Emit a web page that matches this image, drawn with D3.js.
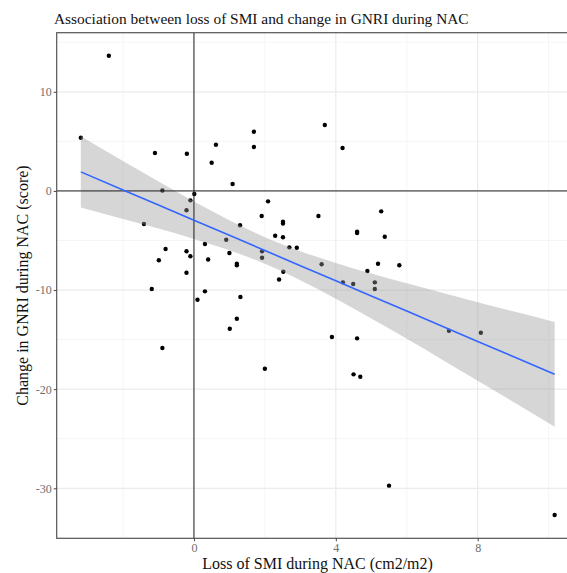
<!DOCTYPE html>
<head>
  <meta charset="utf-8">
  <script src="https://d3js.org/d3.v7.min.js"></script>
  <style>
    body { margin: 0; background: #fff; }
    text { font-family: 'Liberation Serif', 'Times New Roman', serif; }
    .title { font-size: 15.4px; fill: #111; }
    .axisLabel { font-size: 16px; fill: #111; }
    .tick text { font-size: 12px; fill: #6e6e6e; font-family: 'Liberation Serif', serif; }
    .tick line { stroke: #444; }
    .domain { display: none; }
  </style>
</head>
<body>
<div id="chart"></div>
<script>

// points
const smiLoss = [
  -3.19, -2.40, -1.10, -0.20, -0.89, 0.01, -0.10, -0.21, -1.41, 0.62,
  0.50, 1.69, 1.69, 3.69, 4.19, 1.09, 2.09, 1.91, 3.51, 1.30,
  2.51, 2.51, 2.29, 2.51, 2.69, 2.90, 0.91, 0.31, 1.00, 1.92,
  1.92, 1.21, 1.21, 0.40, -0.10, -0.21, -0.80, -0.99, -0.21, 2.52,
  3.60, 2.40, 5.28, 4.60, 4.60, 5.38, 5.19, 5.79, 4.89, 4.20,
  4.49, 5.10, 5.10, 3.89, 4.60, 4.50, 4.69, 7.19, 8.09, -1.19,
  0.10, 0.31, 1.31, 1.21, 1.01, -0.89, 2.00, 5.50, 10.17
];
const gnriChange = [
  5.37, 13.64, 3.82, 3.75, 0.04, -0.31, -0.95, -1.95, -3.34, 4.66,
  2.84, 5.97, 4.43, 6.65, 4.33, 0.70, -1.05, -2.53, -2.53, -3.47,
  -3.11, -3.29, -4.52, -4.68, -5.69, -5.73, -4.92, -5.36, -6.26, -6.09,
  -6.74, -7.34, -7.50, -6.92, -6.59, -6.09, -5.86, -7.00, -8.25, -8.15,
  -7.39, -8.94, -2.06, -4.11, -4.25, -4.62, -7.34, -7.49, -8.08, -9.22,
  -9.39, -9.22, -9.89, -14.73, -14.87, -18.50, -18.74, -14.10, -14.30, -9.89,
  -10.97, -10.13, -10.70, -12.89, -13.90, -15.84, -17.93, -29.73, -32.69
];

// fitted line and its band
const fitX   = [-3.19, -2, -1, 0, 1, 2, 3, 4, 5, 6, 7, 8, 9, 10.17];
const fitY   = [1.92, 0.10, -1.43, -2.96, -4.48, -6.01, -7.54, -9.07, -10.60, -12.12, -13.65, -15.18, -16.71, -18.50];
const ciHigh = [5.52, 3.02, 0.94, -1.07, -2.97, -4.67, -6.08, -7.27, -8.33, -9.32, -10.28, -11.22, -12.15, -13.22];
const ciLow  = [-1.68, -2.82, -3.80, -4.85, -5.99, -7.35, -9.00, -10.87, -12.87, -14.92, -17.02, -19.14, -21.27, -23.78];

const xTicks = [0, 4, 8];
const xMinor = [-2, 2, 6, 10];
const yTicks = [-30, -20, -10, 0, 10];
const yMinor = [-25, -15, -5, 5, 15];

const titleText = "Association between loss of SMI and change in GNRI during NAC";
const xTitle = "Loss of SMI during NAC (cm2/m2)";
const yTitle = "Change in GNRI during NAC (score)";

///////////////////////////////////////////////////////////////////////////
//////////////////// Set up svg ///////////////////////////////////////////
///////////////////////////////////////////////////////////////////////////

const W = 567, H = 573;
const margin = { top: 32.7, left: 56.7 };
const width = 521.7;
const height = 505.6;

const svg = d3.select("#chart").append("svg")
    .attr("width", W)
    .attr("height", H);

const g = svg.append("g")
    .attr("transform", "translate(" + margin.left + "," + margin.top + ")");

const x = d3.scaleLinear().domain([-3.87, 10.84]).range([0, width]);
const y = d3.scaleLinear().domain([-35.04, 15.96]).range([height, 0]);

svg.append("defs").append("clipPath").attr("id", "panel")
  .append("rect").attr("width", width).attr("height", height);

const panel = g.append("g").attr("clip-path", "url(#panel)");

// grid
panel.selectAll(".vminor").data(xMinor).enter().append("line")
    .attr("x1", d => x(d)).attr("x2", d => x(d))
    .attr("y1", 0).attr("y2", height)
    .style("stroke", "#f2f2f2").style("stroke-width", 0.8);
panel.selectAll(".hminor").data(yMinor).enter().append("line")
    .attr("y1", d => y(d)).attr("y2", d => y(d))
    .attr("x1", 0).attr("x2", width)
    .style("stroke", "#f2f2f2").style("stroke-width", 0.8);
panel.selectAll(".vmajor").data(xTicks).enter().append("line")
    .attr("x1", d => x(d)).attr("x2", d => x(d))
    .attr("y1", 0).attr("y2", height)
    .style("stroke", "#ebebeb").style("stroke-width", 1.2);
panel.selectAll(".hmajor").data(yTicks).enter().append("line")
    .attr("y1", d => y(d)).attr("y2", d => y(d))
    .attr("x1", 0).attr("x2", width)
    .style("stroke", "#ebebeb").style("stroke-width", 1.2);

// points
const pts = smiLoss.map((v, i) => ({ x: v, y: gnriChange[i] }));
panel.selectAll(".pt").data(pts).enter().append("circle")
    .attr("cx", d => x(d.x))
    .attr("cy", d => y(d.y))
    .attr("r", 2.2)
    .style("fill", "#000");

// confidence band
const band = fitX.map((v, i) => ({ x: v, lo: ciLow[i], hi: ciHigh[i], f: fitY[i] }));
panel.append("path").datum(band)
    .attr("d", d3.area().x(d => x(d.x)).y0(d => y(d.lo)).y1(d => y(d.hi)).curve(d3.curveMonotoneX))
    .style("fill", "#999999").style("fill-opacity", 0.4);

// reference lines
panel.append("line")
    .attr("x1", x(0)).attr("x2", x(0)).attr("y1", 0).attr("y2", height)
    .style("stroke", "#222").style("stroke-width", 1);
panel.append("line")
    .attr("x1", 0).attr("x2", width).attr("y1", y(0)).attr("y2", y(0))
    .style("stroke", "#222").style("stroke-width", 1);

// fitted line
panel.append("path").datum(band)
    .attr("d", d3.line().x(d => x(d.x)).y(d => y(d.f)))
    .style("fill", "none").style("stroke", "#3366FF").style("stroke-width", 1.6);

// border
g.append("rect")
    .attr("width", width).attr("height", height)
    .style("fill", "none").style("stroke", "#555").style("stroke-width", 1.2);

// axes (plain hyphen for negatives, as in the original)
g.append("g").attr("transform", "translate(0," + height + ")")
    .call(d3.axisBottom(x).tickValues(xTicks).tickSize(3).tickPadding(2).tickFormat(d => String(d)));
g.append("g")
    .call(d3.axisLeft(y).tickValues(yTicks).tickSize(3).tickPadding(2).tickFormat(d => String(d)));

// titles
svg.append("text").attr("class", "title")
    .attr("x", 54).attr("y", 24)
    .text(titleText);

svg.append("text").attr("class", "axisLabel")
    .attr("x", margin.left + width / 2).attr("y", 569)
    .attr("text-anchor", "middle")
    .text(xTitle);

svg.append("text").attr("class", "axisLabel")
    .attr("transform", "translate(28," + (margin.top + height / 2) + ") rotate(-90)")
    .attr("text-anchor", "middle")
    .text(yTitle);

</script>
</body>
